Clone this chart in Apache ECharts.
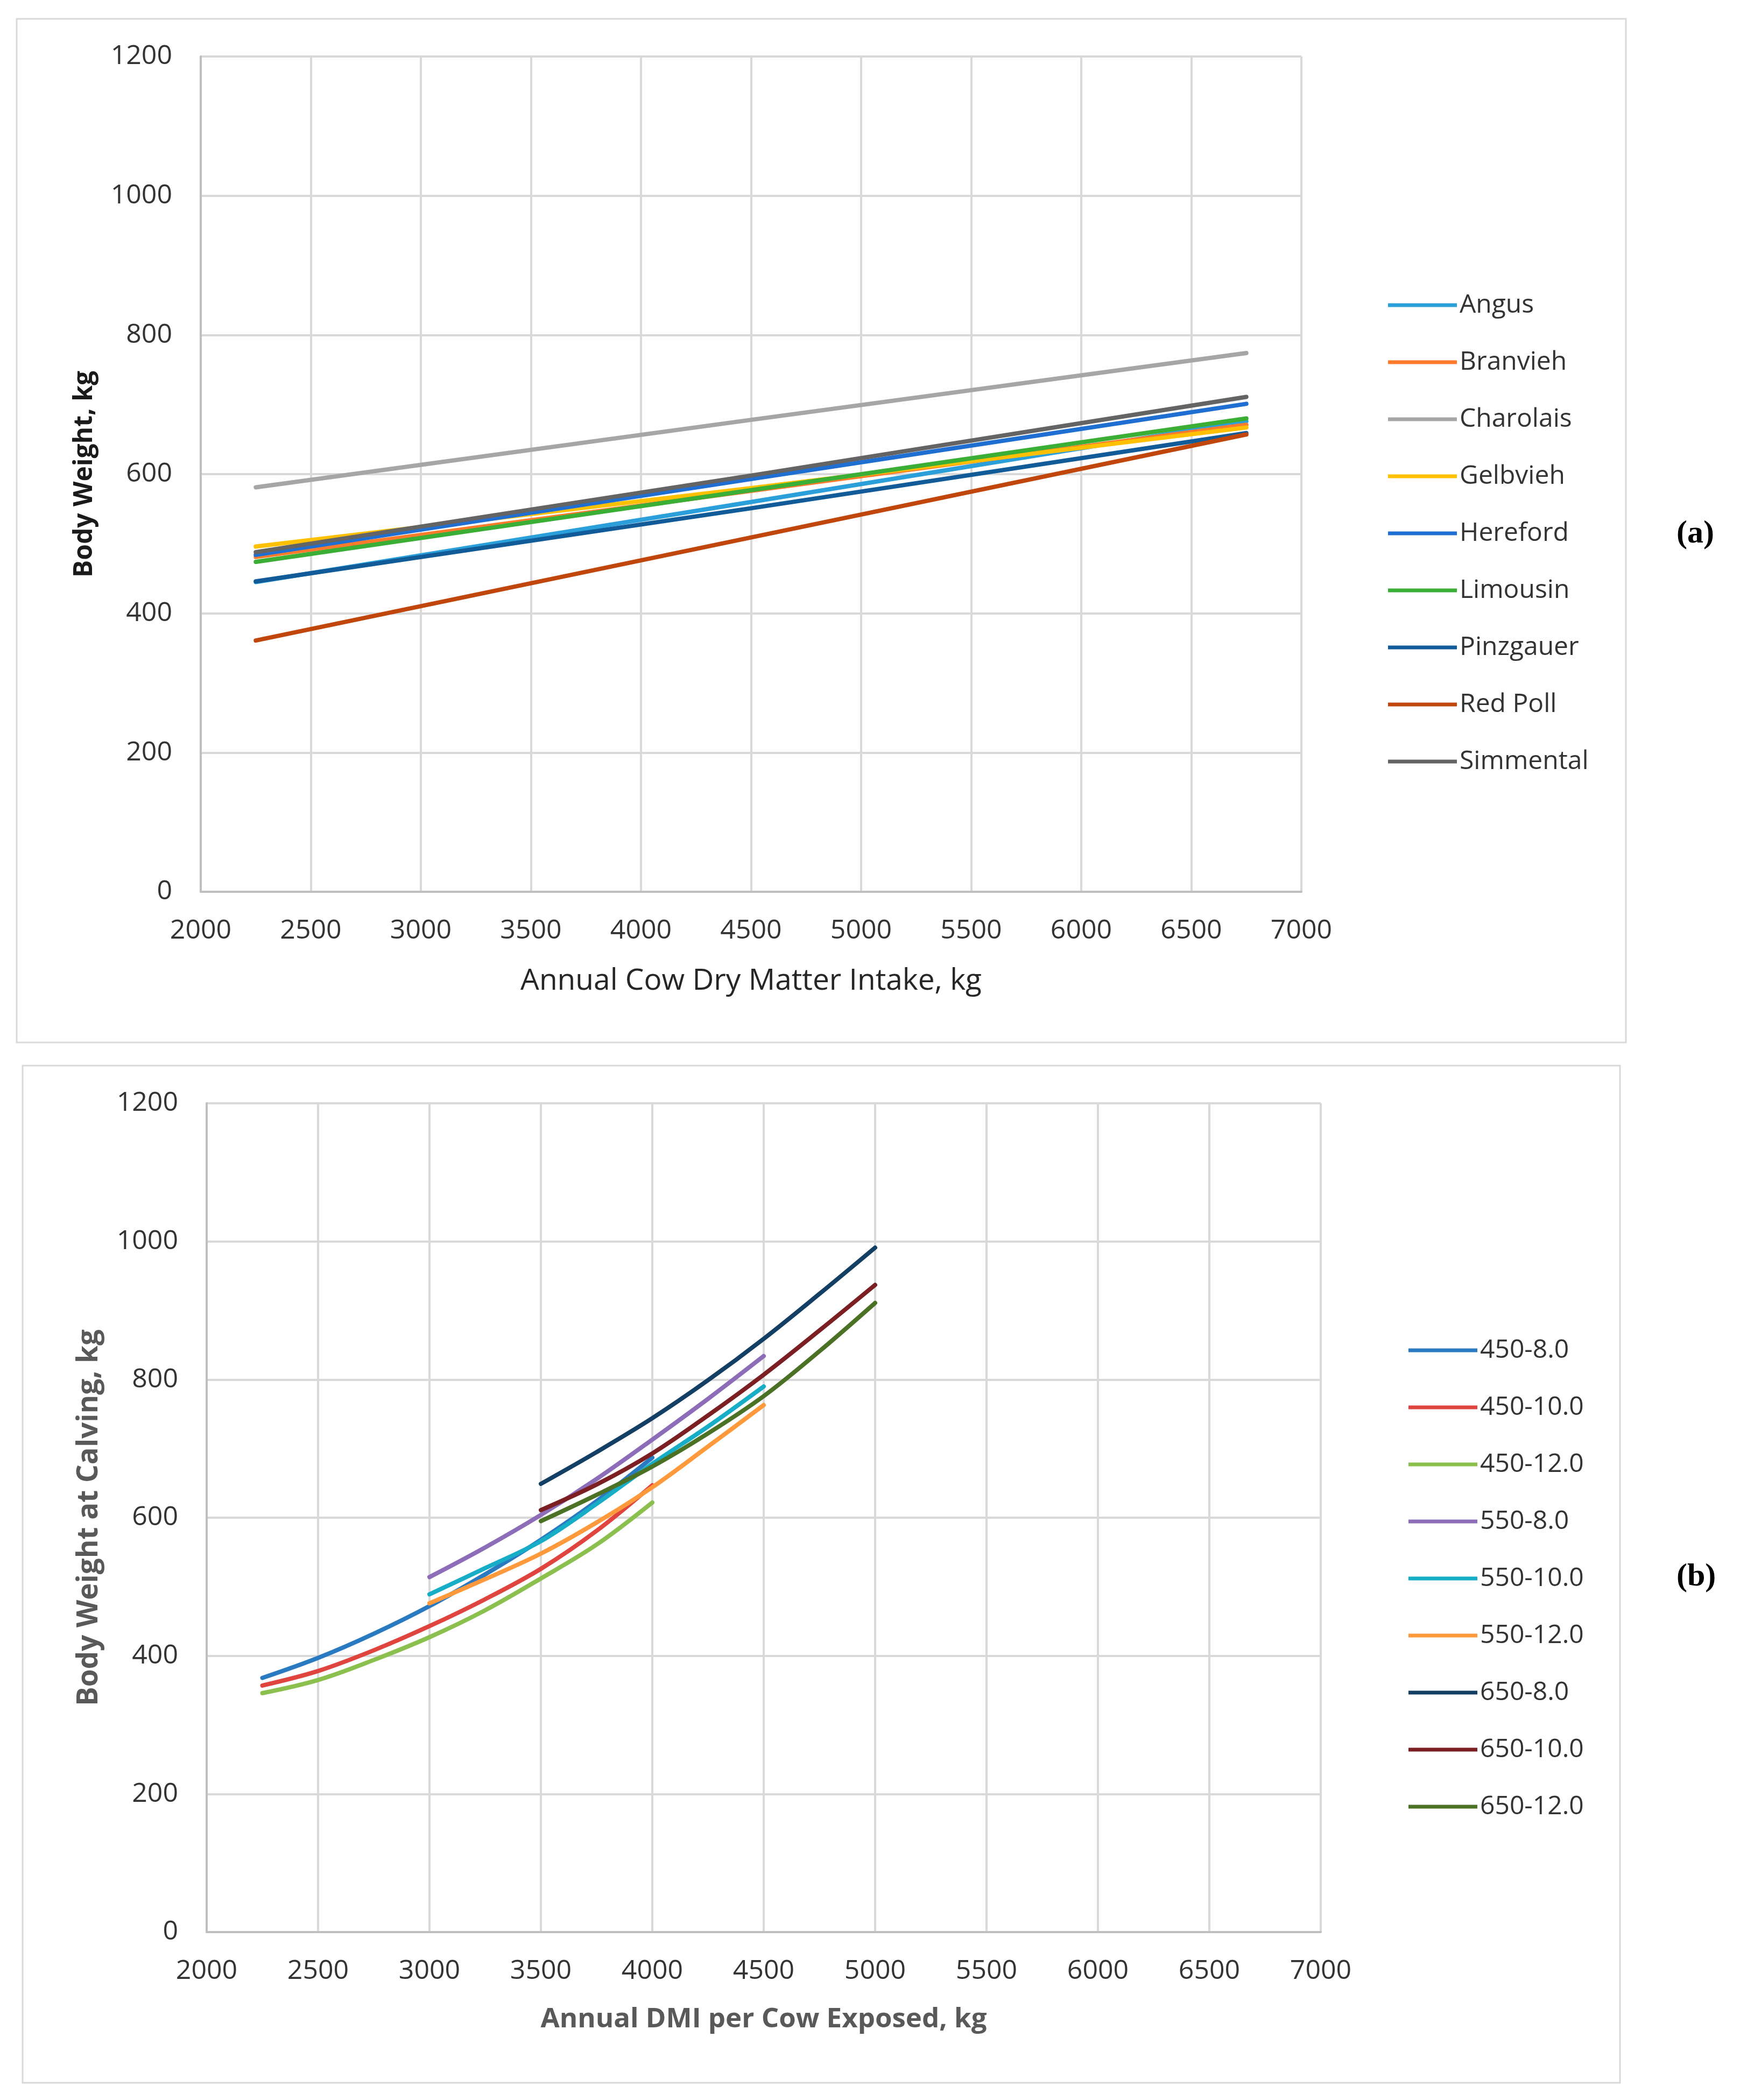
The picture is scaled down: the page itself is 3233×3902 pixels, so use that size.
<!DOCTYPE html>
<html>
<head>
<meta charset="utf-8">
<script src="https://cdn.jsdelivr.net/npm/echarts@6/dist/echarts.min.js"></script>
<style>
html,body{margin:0;padding:0;background:#fff;}
#chart{width:3233px;height:3902px;}
</style>
</head>
<body>
<div id="chart"></div>
<script>
// ---------- Panel (a) data ----------
const breedNames = ['Angus','Branvieh','Charolais','Gelbvieh','Hereford','Limousin','Pinzgauer','Red Poll','Simmental'];
const breedColors = ['#2A9FDA','#FF7B2C','#A6A6A6','#FFC000','#1F6FD3','#3BAE36','#115B99','#C0460B','#646464'];
const dmiA = [2250, 4500, 6750];
const angus     = [445, 560, 676];
const branvieh  = [481, 576, 671];
const charolais = [581, 678, 774];
const gelbvieh  = [496, 580, 667];
const hereford  = [484, 593, 701];
const limousin  = [474, 577, 680];
const pinzgauer = [446, 551, 659];
const redPoll   = [361, 509, 657];
const simmental = [488, 598, 711];
const breedValues = [angus, branvieh, charolais, gelbvieh, hereford, limousin, pinzgauer, redPoll, simmental];

// ---------- Panel (b) data ----------
const groupNames = ['450-8.0','450-10.0','450-12.0','550-8.0','550-10.0','550-12.0','650-8.0','650-10.0','650-12.0'];
const groupColors = ['#2A7AC2','#E0443F','#8BC04F','#8E6DB8','#17ADC7','#FF9A3C','#143F64','#7B1F22','#4A7124'];
const dmi450 = [2250, 2500, 2750, 3000, 3250, 3500, 3750, 4000];
const dmi550 = [3000, 3250, 3500, 3750, 4000, 4250, 4500];
const dmi650 = [3500, 3750, 4000, 4250, 4500, 4750, 5000];
const g450_8  = [368, 397, 432, 472, 518, 568, 624, 687];
const g450_10 = [357, 378, 408, 443, 482, 526, 581, 647];
const g450_12 = [346, 365, 394, 427, 466, 512, 561, 622];
const g550_8  = [514, 557, 604, 656, 713, 772, 834];
const g550_10 = [489, 527, 566, 620, 678, 732, 790];
const g550_12 = [476, 511, 548, 593, 644, 703, 763];
const g650_8  = [649, 695, 744, 799, 859, 924, 991];
const g650_10 = [611, 648, 693, 748, 807, 871, 937];
const g650_12 = [595, 633, 674, 722, 776, 841, 911];
const groupX = [dmi450, dmi450, dmi450, dmi550, dmi550, dmi550, dmi650, dmi650, dmi650];
const groupValues = [g450_8, g450_10, g450_12, g550_8, g550_10, g550_12, g650_8, g650_10, g650_12];

// ---------- Axis ticks ----------
const xMin = 2000, xMax = 7000, xStep = 500;
const yMin = 0, yMax = 1200, yStep = 200;

const FONT = '"Open Sans", "Noto Sans", sans-serif';

function pairs(xs, ys){ return xs.map((x,i)=>[x, ys[i]]); }

const series = [];
breedNames.forEach((n,i)=>{
  series.push({
    name:n, type:'line', xAxisIndex:0, yAxisIndex:0,
    data: pairs(dmiA, breedValues[i]),
    symbol:'none', smooth:false,
    lineStyle:{width:8, color:breedColors[i], cap:'round'},
    itemStyle:{color:breedColors[i]},
    z: 3
  });
});
groupNames.forEach((n,i)=>{
  series.push({
    name:n, type:'line', xAxisIndex:1, yAxisIndex:1,
    data: pairs(groupX[i], groupValues[i]),
    symbol:'none', smooth:0.35,
    lineStyle:{width:8, color:groupColors[i], cap:'round'},
    itemStyle:{color:groupColors[i]},
    z: 3
  });
});

function xAxisCfg(grid, name, nameStyle, gap){
  return {
    type:'value', gridIndex:grid, min:xMin, max:xMax, interval:xStep,
    name:name, nameLocation:'middle', nameGap:gap,
    nameTextStyle:nameStyle,
    axisLine:{show:true, lineStyle:{color:'#BFBFBF', width:4}},
    axisTick:{show:false},
    axisLabel:{color:'#333333', fontSize:50, fontFamily:FONT, margin:48, formatter:v=>String(v)},
    splitLine:{show:true, lineStyle:{color:'#D9D9D9', width:4}}
  };
}
function yAxisCfg(grid, name, nameStyle, gap){
  return {
    type:'value', gridIndex:grid, min:yMin, max:yMax, interval:yStep,
    name:name, nameLocation:'middle', nameGap:gap,
    nameTextStyle:nameStyle,
    axisLine:{show:true, lineStyle:{color:'#BFBFBF', width:4}},
    axisTick:{show:false},
    axisLabel:{color:'#333333', fontSize:50, fontFamily:FONT, margin:53, formatter:v=>String(v)},
    splitLine:{show:true, lineStyle:{color:'#D9D9D9', width:4}}
  };
}

function legendCfg(names, left, top){
  return {
    data:names.map(n=>({name:n, icon:'rect'})), orient:'vertical', left:left, top:top,
    itemWidth:128, itemHeight:7, itemGap:56,
    textStyle:{color:'#333333', fontSize:48, lineHeight:50, fontFamily:FONT},
    selectedMode:false
  };
}

const option = {
  backgroundColor:'#ffffff',
  animation:false,
  grid:[
    {left:373, top:105, width:2045, height:1552},
    {left:384, top:2050, width:2070, height:1540}
  ],
  xAxis:[
    xAxisCfg(0, 'Annual Cow Dry Matter Intake, kg', {color:'#262626', fontSize:55, fontFamily:FONT}, 139),
    xAxisCfg(1, 'Annual DMI per Cow Exposed, kg', {color:'#595959', fontSize:51, fontWeight:'bold', fontFamily:FONT}, 137)
  ],
  yAxis:[
    yAxisCfg(0, 'Body Weight, kg', {color:'#1a1a1a', fontSize:48, fontWeight:'bold', fontFamily:FONT}, 192),
    yAxisCfg(1, 'Body Weight at Calving, kg', {color:'#595959', fontSize:53, fontWeight:'bold', fontFamily:FONT}, 192)
  ],
  legend:[
    legendCfg(breedNames, 2574, 537),
    legendCfg(groupNames, 2612, 2479)
  ],
  graphic:[
    {type:'rect', shape:{x:31, y:35, width:2990, height:1902}, style:{fill:'none', stroke:'#D9D9D9', lineWidth:3}, z:-1, silent:true},
    {type:'rect', shape:{x:42, y:1980, width:2968, height:1890}, style:{fill:'none', stroke:'#D9D9D9', lineWidth:3}, z:-1, silent:true},
    {type:'text', left:3115, top:962, style:{text:'(a)', font:'bold 60px "Liberation Serif", serif', fill:'#000'}},
    {type:'text', left:3115, top:2900, style:{text:'(b)', font:'bold 60px "Liberation Serif", serif', fill:'#000'}}
  ],
  series:series
};

const chart = echarts.init(document.getElementById('chart'), null, {renderer:'canvas'});
chart.setOption(option);
</script>
</body>
</html>
